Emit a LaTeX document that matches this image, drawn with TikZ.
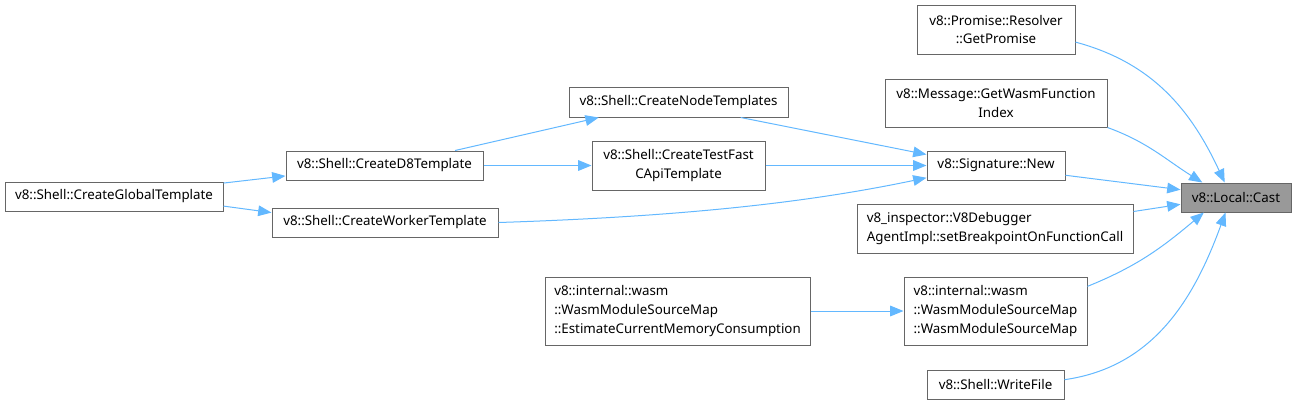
\documentclass[tikz,border=0pt]{standalone}
\usepackage{fontspec}
\setmainfont{Noto Sans}
\usetikzlibrary{arrows.meta}
\definecolor{edgeblue}{HTML}{63B8FF}
\definecolor{boxgray}{HTML}{666666}
\definecolor{castfill}{HTML}{999999}
\begin{document}
\begin{tikzpicture}[x=0.75pt,y=-0.75pt,
  fn/.style={draw=boxgray,line width=0.75pt,fill=white,inner sep=0pt,
    font=\fontsize{10}{14}\selectfont,align=center},
  lfn/.style={fn,align=left},
  call/.style={draw=edgeblue,line width=0.75pt,
    -{Triangle[length=10pt,width=8pt]}}]
\useasboundingbox (0,0) rectangle (1296,405);
\node[fn,fill=castfill,minimum width=82.5pt,minimum height=21.75pt] (cast) at (1236,197.5) {v8::Local::Cast};
\node[fn,minimum width=118.5pt,minimum height=36.75pt] (prom) at (996,29.5) {v8::Promise::Resolver\\::GetPromise};
\node[fn,minimum width=166.5pt,minimum height=36pt] (msg) at (996,103) {v8::Message::GetWasmFunction\\Index};
\node[fn,minimum width=103.5pt,minimum height=21.75pt] (sig) at (996,165.5) {v8::Signature::New};
\node[lfn,minimum width=207pt,minimum height=36.75pt] (dbg) at (995,228.5) {v8\_inspector::V8Debugger\\AgentImpl::setBreakpointOnFunctionCall};
\node[lfn,minimum width=137.25pt,minimum height=51pt] (wsm) at (995.5,311) {v8::internal::wasm\\::WasmModuleSourceMap\\::WasmModuleSourceMap};
\node[fn,minimum width=102.75pt,minimum height=21.75pt] (wfile) at (995.5,384.5) {v8::Shell::WriteFile};
\node[lfn,minimum width=198.75pt,minimum height=51pt] (est) at (677.5,311) {v8::internal::wasm\\::WasmModuleSourceMap\\::EstimateCurrentMemoryConsumption};
\node[fn,minimum width=164.25pt,minimum height=22.5pt] (nodet) at (678.5,102) {v8::Shell::CreateNodeTemplates};
\node[fn,minimum width=129.75pt,minimum height=36.75pt] (fast) at (678.5,165.5) {v8::Shell::CreateTestFast\\CApiTemplate};
\node[fn,minimum width=147.75pt,minimum height=21.75pt] (d8) at (384.5,165.5) {v8::Shell::CreateD8Template};
\node[fn,minimum width=169.5pt,minimum height=21.75pt] (wrk) at (385,222.5) {v8::Shell::CreateWorkerTemplate};
\node[fn,minimum width=163.5pt,minimum height=21.75pt] (glob) at (114,196.5) {v8::Shell::CreateGlobalTemplate};
\draw[call] (prom.-9) to[out=-15,in=115] (cast.127);
\draw[call] (msg.south east) to[out=-20,in=148] (cast.156);
\draw[call] (sig.-8) -- (cast.172);
\draw[call] (dbg.7.6) -- (cast.-173);
\draw[call] (wsm.15) to[out=22,in=-140] (cast.205);
\draw[call] (wfile.4) to[out=8,in=-110] (cast.235);
\draw[call] (nodet.-14) -- (sig.171);
\draw[call] (fast.east) -- (sig.west);
\draw[call] (wrk.east) .. controls (700,216) and (820,200) .. (sig.190);
\draw[call] (d8.12) -- (nodet.191);
\draw[call] (d8.east) -- (fast.west);
\draw[call] (glob.7) -- (d8.186);
\draw[call] (glob.-5.5) -- (wrk.175);
\draw[call] (est.east) -- (wsm.west);
\end{tikzpicture}
\end{document}
